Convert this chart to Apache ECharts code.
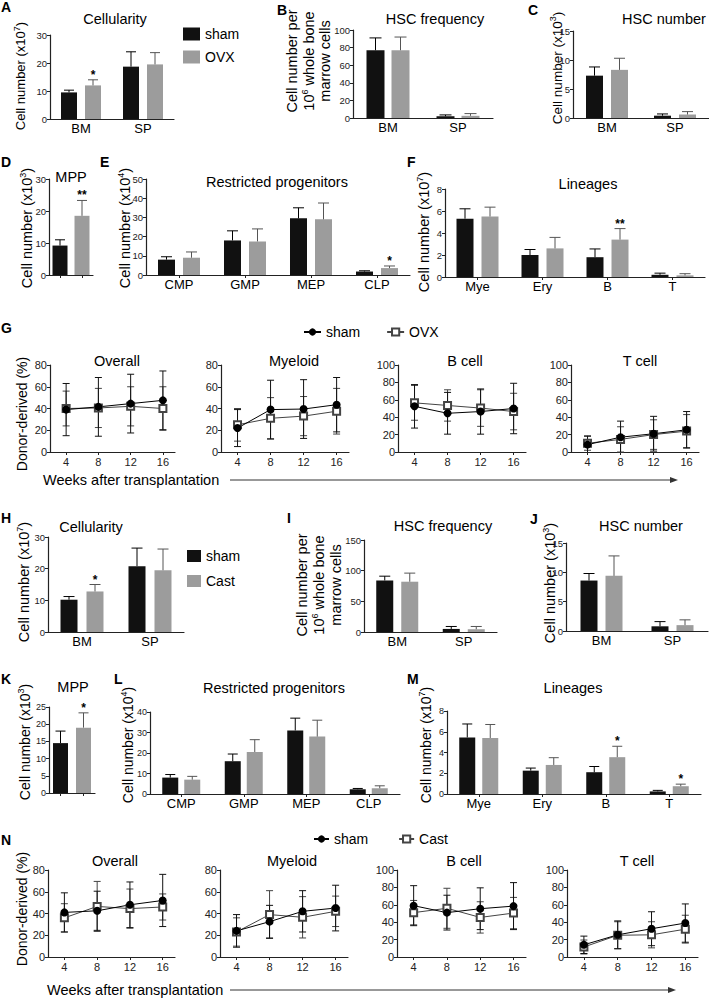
<!DOCTYPE html>
<html><head><meta charset="utf-8">
<script src="https://cdn.jsdelivr.net/npm/echarts@6/dist/echarts.min.js"></script>
<style>html,body{margin:0;padding:0;background:#fff}#c{width:709px;height:1000px}</style>
</head><body><div id="c"></div>
<script>
// ---------------- DATA ----------------
const bmsp = ['BM', 'SP'];
const progCats = ['CMP', 'GMP', 'MEP', 'CLP'];
const linCats = ['Mye', 'Ery', 'B', 'T'];
const weeks = [4, 8, 12, 16];

// A Cellularity (x10^7)
const A_sham = [9.5, 18.7], A_shamErr = [0.8, 5.3];
const A_ovx = [12.0, 19.5], A_ovxErr = [2.0, 4.2];
const A_stars = ['*', ''];
// B HSC frequency
const B_sham = [77, 2.0], B_shamErr = [14, 1.5];
const B_ovx = [77, 2.5], B_ovxErr = [15, 2.5];
// C HSC number (x10^3)
const C_sham = [7.3, 0.4], C_shamErr = [1.5, 0.3];
const C_ovx = [8.3, 0.6], C_ovxErr = [2.0, 0.5];
// D MPP (x10^3)
const D_cats = ['sham', 'OVX'];
const D_vals = [9.2, 18.5], D_errs = [1.8, 4.8], D_stars = ['', '**'];
// E Restricted progenitors (x10^4)
const E_sham = [8.0, 18.0, 29.5, 1.8], E_shamErr = [1.5, 5.0, 5.5, 0.4];
const E_ovx = [9.0, 17.5, 29.0, 3.6], E_ovxErr = [3.0, 6.5, 8.5, 1.1];
const E_stars = ['', '', '', '*'];
// F Lineages (x10^7)
const F_sham = [5.3, 2.0, 1.8, 0.2], F_shamErr = [0.9, 0.5, 0.75, 0.15];
const F_ovx = [5.5, 2.6, 3.4, 0.15], F_ovxErr = [0.85, 1.0, 1.0, 0.15];
const F_stars = ['', '', '**', ''];
// G donor-derived (%)  sham vs OVX
const G_all_sham = [39, 41.5, 44.5, 47.5], G_all_shamErr = [24, 27, 27, 27];
const G_all_ovx = [40, 40.5, 42, 40], G_all_ovxErr = [16, 18, 18, 20];
const G_mye_sham = [22, 39, 39.5, 43.5], G_mye_shamErr = [17, 27, 27, 25];
const G_mye_ovx = [25, 31, 33, 37.5], G_mye_ovxErr = [15, 19, 18, 21];
const G_b_sham = [52.5, 44.5, 46.5, 50], G_b_shamErr = [25, 24, 26, 29];
const G_b_ovx = [56.5, 53.5, 50.5, 46.5], G_b_ovxErr = [20, 18, 21, 21];
const G_t_sham = [8.5, 17, 21, 25.5], G_t_shamErr = [10, 18.5, 20, 21];
const G_t_ovx = [10, 14.5, 20, 24], G_t_ovxErr = [8, 14.5, 17, 19];
// H Cellularity (x10^7)
const H_sham = [10.2, 20.8], H_shamErr = [1.0, 5.7];
const H_cast = [12.8, 19.5], H_castErr = [2.2, 6.7];
const H_stars = ['*', ''];
// I HSC frequency
const I_sham = [84, 5.0], I_shamErr = [7, 4.0];
const I_cast = [82, 4.5], I_castErr = [14, 4.5];
// J HSC number (x10^3)
const J_sham = [8.6, 0.8], J_shamErr = [1.2, 0.8];
const J_cast = [9.4, 1.0], J_castErr = [3.4, 0.9];
// K MPP (x10^3)
const K_cats = ['sham', 'Cast'];
const K_vals = [14.5, 19.0], K_errs = [3.5, 4.3], K_stars = ['', '*'];
// L Restricted progenitors (x10^4)
const L_sham = [8.0, 16.0, 31.0, 2.3], L_shamErr = [1.5, 3.5, 6.0, 0.4];
const L_cast = [7.0, 20.5, 28.0, 2.8], L_castErr = [1.6, 6.0, 8.0, 1.2];
// M Lineages (x10^7)
const M_sham = [5.45, 2.25, 2.1, 0.25], M_shamErr = [1.3, 0.25, 0.55, 0.1];
const M_cast = [5.4, 2.8, 3.55, 0.75], M_castErr = [1.3, 0.7, 1.05, 0.2];
const M_stars = ['', '', '*', '*'];
// N donor-derived (%)  sham vs Cast
const N_all_sham = [41, 42.5, 48, 52], N_all_shamErr = [18, 18, 21, 24];
const N_all_cast = [36, 46.5, 44.5, 46], N_all_castErr = [13, 23, 18, 12];
const N_mye_sham = [24, 32.5, 42, 45], N_mye_shamErr = [15, 15, 19, 21];
const N_mye_cast = [23, 39, 36.5, 42], N_mye_castErr = [13, 22, 19, 14];
const N_b_sham = [59, 51, 55.5, 58.5], N_b_shamErr = [23, 20, 24, 27];
const N_b_cast = [51, 56, 45.5, 50.5], N_b_castErr = [14, 23, 18, 18];
const N_t_sham = [14, 25.5, 32.5, 39], N_t_shamErr = [10, 16, 19.5, 22];
const N_t_cast = [11.5, 25, 25.5, 32], N_t_castErr = [8, 15.5, 15, 16];

// ---------------- STYLE / BUILDERS ----------------
const FONT = "'Liberation Sans', Arial, sans-serif";
const BLACK = '#111', GREY = '#9c9c9c', AX = '#222';
const grid = [], xAxis = [], yAxis = [], series = [], graphic = [], legend = [];

function errSeries(gi, data, offset, cap, color, twoSided, stars) {
  return {
    type: 'custom', xAxisIndex: gi, yAxisIndex: gi, z: 3, silent: true, animation: false,
    data: data,
    renderItem: function (params, api) {
      const i = params.dataIndex;
      const x = api.value(0), m = api.value(1), e = api.value(2);
      const c = Array.isArray(color) ? color[i] : color;
      const pTop = api.coord([x, m + e]);
      const pMid = api.coord([x, m]);
      const lowClip = (m - e) < 0;
      const pLow = api.coord([x, Math.max(0, m - e)]);
      const cx = pTop[0] + (Array.isArray(offset) ? offset[i] : offset);
      const yb = twoSided ? pLow[1] : pMid[1];
      const st = { stroke: c, lineWidth: 1 };
      const ch = [
        { type: 'line', shape: { x1: cx, y1: pTop[1], x2: cx, y2: yb }, style: st },
        { type: 'line', shape: { x1: cx - cap / 2, y1: pTop[1], x2: cx + cap / 2, y2: pTop[1] }, style: st }
      ];
      if (twoSided && !lowClip) ch.push({ type: 'line', shape: { x1: cx - cap / 2, y1: pLow[1], x2: cx + cap / 2, y2: pLow[1] }, style: st });
      const s = stars && stars[i];
      if (s) ch.push({ type: 'text', x: cx, y: pTop[1] - 5, style: { text: s, fontSize: 12, fontWeight: 'bold', fontFamily: FONT, fill: '#000', align: 'center', verticalAlign: 'middle', lineHeight: 10 } });
      return { type: 'group', children: ch };
    }
  };
}

function yAx(gi, max, interval, fs) {
  return {
    gridIndex: gi, type: 'value', min: 0, max: max, interval: interval,
    axisLine: { show: true, onZero: false, lineStyle: { color: AX, width: 1.2 } },
    axisTick: { show: true, length: 3, lineStyle: { color: AX } },
    axisLabel: { fontSize: fs, color: '#222', margin: 3, fontFamily: FONT },
    splitLine: { show: false }
  };
}

function barPanel(p) {
  const gi = grid.length;
  grid.push({ left: p.left, top: p.top, width: p.width, height: p.height });
  xAxis.push({
    gridIndex: gi, type: 'category', data: p.cats,
    axisLine: { lineStyle: { color: AX, width: 1.2 } },
    axisTick: { show: !!p.ticks, alignWithLabel: true, length: 3, lineStyle: { color: AX } },
    axisLabel: { show: !p.hideLabels, fontSize: 13, color: '#000', margin: 3, fontFamily: FONT, interval: 0 }
  });
  yAxis.push(yAx(gi, p.max, p.interval, p.tickFont || 9.5));
  const cap = Math.round(p.barW * 0.65);
  if (p.single) {
    const s = p.single;
    series.push({
      type: 'bar', xAxisIndex: gi, yAxisIndex: gi, barWidth: p.barW, silent: true, z: 2,
      data: s.vals.map((v, i) => ({ value: v, itemStyle: { color: s.colors[i] } }))
    });
    series.push(errSeries(gi, s.vals.map((v, i) => [i, v, s.errs[i]]), 0, cap, s.errColors, false, s.stars));
    return;
  }
  p.groups.forEach((g, k) => {
    const off = (k === 0 ? -1 : 1) * (p.barW + p.gap) / 2;
    series.push({
      type: 'bar', name: g.name, xAxisIndex: gi, yAxisIndex: gi, data: g.vals, barWidth: p.barW,
      barGap: (p.gap / p.barW * 100).toFixed(1) + '%', itemStyle: { color: g.color }, silent: true, z: 2
    });
    series.push(errSeries(gi, g.vals.map((v, i) => [i, v, g.errs[i]]), off, cap, g.errColor, false, g.stars));
  });
}

function linePanel(p) {
  const gi = grid.length;
  grid.push({ left: p.left, top: p.top, width: p.width, height: p.height });
  xAxis.push({
    gridIndex: gi, type: 'value', min: 2, max: 17.5,
    axisLine: { show: true, onZero: false, lineStyle: { color: AX, width: 1.2 } },
    axisTick: { show: true, length: 3, customValues: weeks, lineStyle: { color: AX } },
    axisLabel: { customValues: weeks, fontSize: 11, color: '#222', margin: 4, fontFamily: FONT },
    splitLine: { show: false }
  });
  yAxis.push(yAx(gi, p.max, 20, 11));
  p.groups.forEach(g => {
    series.push(errSeries(gi, weeks.map((w, i) => [w, g.vals[i], g.errs[i]]), 0, 7, g.errColor, true));
    series.push({
      type: 'line', name: g.name, xAxisIndex: gi, yAxisIndex: gi, silent: true, z: 4,
      data: weeks.map((w, i) => [w, g.vals[i]]),
      symbol: g.symbol, symbolSize: g.size,
      itemStyle: { color: g.color, borderWidth: 1 }, lineStyle: { color: g.color, width: 1 }
    });
  });
}

function T(x, y, text, o) {
  o = o || {};
  const st = {
    text: text, fontSize: o.fs || 14, fontWeight: o.fw || 'normal', fontFamily: FONT, fill: '#000',
    align: o.align || 'center', verticalAlign: 'middle'
  };
  if (o.rich) { st.rich = o.rich; st.lineHeight = o.lh || 16; }
  graphic.push({ type: 'text', x: x, y: y, rotation: o.rot || 0, silent: true, style: st });
}
const SUP = { s: { fontSize: 9, lineHeight: 6, verticalAlign: 'top', fontFamily: FONT } };
function YL(x, y, text, fs) { T(x, y, text, { rot: Math.PI / 2, fs: fs, rich: SUP, lh: fs + 3 }); }
function L(x, y, t) { T(x, y, t, { fs: 14, fw: 'bold', align: 'left' }); }
function arrow(x1, x2, y) {
  graphic.push({ type: 'line', silent: true, shape: { x1: x1, y1: y, x2: x2 - 4, y2: y }, style: { stroke: '#333', lineWidth: 1 } });
  graphic.push({ type: 'polygon', silent: true, shape: { points: [[x2, y], [x2 - 8, y - 3], [x2 - 8, y + 3]] }, style: { fill: '#333' } });
}

const sham = (v, e, st) => ({ name: 'sham', vals: v, errs: e, color: BLACK, errColor: '#000', stars: st });
const trt = (n, v, e, st) => ({ name: n, vals: v, errs: e, color: GREY, errColor: '#555', stars: st });
const lsham = (v, e) => ({ name: 'sham ', vals: v, errs: e, color: '#000', errColor: '#111', symbol: 'circle', size: 8 });
const ltrt = (n, v, e) => ({ name: n, vals: v, errs: e, color: '#444', errColor: '#444', symbol: 'emptyRect', size: 7 });

// ---------------- PANELS ----------------
barPanel({ left: 50, top: 35, width: 124, height: 84, cats: bmsp, max: 30, interval: 10, barW: 16, gap: 8,
  groups: [sham(A_sham, A_shamErr), trt('OVX', A_ovx, A_ovxErr, A_stars)] });
barPanel({ left: 353, top: 30, width: 140, height: 88, cats: bmsp, max: 100, interval: 20, barW: 18, gap: 7,
  groups: [sham(B_sham, B_shamErr), trt('OVX', B_ovx, B_ovxErr)] });
barPanel({ left: 573, top: 31, width: 136, height: 87, cats: bmsp, max: 15, interval: 5, barW: 17, gap: 8,
  groups: [sham(C_sham, C_shamErr), trt('OVX', C_ovx, C_ovxErr)] });
barPanel({ left: 49, top: 179, width: 44, height: 96, cats: D_cats, max: 30, interval: 10, barW: 15, ticks: true, hideLabels: true,
  single: { vals: D_vals, errs: D_errs, colors: [BLACK, GREY], errColors: ['#000', '#555'], stars: D_stars } });
barPanel({ left: 146, top: 179, width: 264, height: 96, cats: progCats, max: 50, interval: 10, barW: 17, gap: 8, ticks: true,
  groups: [sham(E_sham, E_shamErr), trt('OVX', E_ovx, E_ovxErr, E_stars)] });
barPanel({ left: 445, top: 189, width: 260, height: 88, cats: linCats, max: 8, interval: 2, barW: 17, gap: 8, ticks: true,
  groups: [sham(F_sham, F_shamErr), trt('OVX', F_ovx, F_ovxErr, F_stars)] });

linePanel({ left: 50, top: 365, width: 125, height: 87, max: 80, groups: [ltrt('OVX ', G_all_ovx, G_all_ovxErr), lsham(G_all_sham, G_all_shamErr)] });
linePanel({ left: 221, top: 365, width: 128, height: 87, max: 80, groups: [ltrt('OVX ', G_mye_ovx, G_mye_ovxErr), lsham(G_mye_sham, G_mye_shamErr)] });
linePanel({ left: 398, top: 365, width: 128, height: 87, max: 100, groups: [ltrt('OVX ', G_b_ovx, G_b_ovxErr), lsham(G_b_sham, G_b_shamErr)] });
linePanel({ left: 571, top: 365, width: 128, height: 87, max: 100, groups: [ltrt('OVX ', G_t_ovx, G_t_ovxErr), lsham(G_t_sham, G_t_shamErr)] });

barPanel({ left: 48, top: 537, width: 136, height: 95, cats: bmsp, max: 30, interval: 10, barW: 17, gap: 9,
  groups: [sham(H_sham, H_shamErr), trt('Cast', H_cast, H_castErr, H_stars)] });
barPanel({ left: 364, top: 540, width: 133, height: 92, cats: bmsp, max: 150, interval: 50, barW: 17, gap: 8,
  groups: [sham(I_sham, I_shamErr), trt('Cast', I_cast, I_castErr)] });
barPanel({ left: 566, top: 543, width: 142, height: 88, cats: bmsp, max: 15, interval: 5, barW: 17, gap: 8,
  groups: [sham(J_sham, J_shamErr), trt('Cast', J_cast, J_castErr)] });
barPanel({ left: 49, top: 707, width: 46, height: 86, cats: K_cats, max: 25, interval: 5, barW: 15, ticks: true, hideLabels: true, tickFont: 9,
  single: { vals: K_vals, errs: K_errs, colors: [BLACK, GREY], errColors: ['#000', '#555'], stars: K_stars } });
barPanel({ left: 150, top: 712, width: 250, height: 82, cats: progCats, max: 40, interval: 10, barW: 16, gap: 6, ticks: true, tickFont: 9,
  groups: [sham(L_sham, L_shamErr), trt('Cast', L_cast, L_castErr)] });
barPanel({ left: 447, top: 711, width: 254, height: 83, cats: linCats, max: 8, interval: 2, barW: 16, gap: 7, ticks: true, tickFont: 9,
  groups: [sham(M_sham, M_shamErr), trt('Cast', M_cast, M_castErr, M_stars)] });

linePanel({ left: 48, top: 870, width: 127, height: 87, max: 80, groups: [ltrt('Cast ', N_all_cast, N_all_castErr), lsham(N_all_sham, N_all_shamErr)] });
linePanel({ left: 220, top: 870, width: 128, height: 87, max: 80, groups: [ltrt('Cast ', N_mye_cast, N_mye_castErr), lsham(N_mye_sham, N_mye_shamErr)] });
linePanel({ left: 397, top: 870, width: 129, height: 87, max: 100, groups: [ltrt('Cast ', N_b_cast, N_b_castErr), lsham(N_b_sham, N_b_shamErr)] });
linePanel({ left: 567, top: 870, width: 131, height: 87, max: 100, groups: [ltrt('Cast ', N_t_cast, N_t_castErr), lsham(N_t_sham, N_t_shamErr)] });

// ---------------- TEXT ----------------
const TF = 14.5;
T(115, 19, 'Cellularity', { fs: TF }); T(435, 19, 'HSC frequency', { fs: TF }); T(664, 19, 'HSC number', { fs: TF });
T(71, 177, 'MPP', { fs: TF }); T(277, 182, 'Restricted progenitors', { fs: TF }); T(588, 184, 'Lineages', { fs: TF });
T(117, 361, 'Overall', { fs: TF }); T(294, 361, 'Myeloid', { fs: TF }); T(465, 361, 'B cell', { fs: TF }); T(640, 361, 'T cell', { fs: TF });
T(91, 527, 'Cellularity', { fs: TF }); T(443, 526, 'HSC frequency', { fs: TF }); T(641, 526, 'HSC number', { fs: TF });
T(73, 687, 'MPP', { fs: TF }); T(274, 688, 'Restricted progenitors', { fs: TF }); T(573, 688, 'Lineages', { fs: TF });
T(115, 861, 'Overall', { fs: TF }); T(292, 861, 'Myeloid', { fs: TF }); T(464, 861, 'B cell', { fs: TF }); T(637, 861, 'T cell', { fs: TF });

L(1, 7, 'A'); L(277, 10, 'B'); L(528, 10, 'C'); L(1, 162, 'D'); L(100, 162, 'E'); L(407, 162, 'F');
L(1, 328, 'G'); L(1, 518, 'H'); L(287, 518, 'I'); L(530, 519, 'J'); L(1, 679, 'K'); L(114, 679, 'L'); L(407, 679, 'M'); L(1, 840, 'N');

YL(20, 76, 'Cell number (x10{s|7})', 13);
YL(292, 61, 'Cell number per', 14.5); YL(309, 61, '10{s|6} whole bone', 14.5); YL(325, 61, 'marrow cells', 14.5);
YL(557, 68, 'Cell number (x10{s|3})', 13.5);
YL(27, 228, 'Cell number (x10{s|3})', 14.5);
YL(125, 228, 'Cell number (x10{s|4})', 14.5);
YL(424, 232, 'Cell number (x10{s|7})', 14.5);
YL(22, 414, 'Donor-derived (%)', 14);
YL(24, 582, 'Cell number (x10{s|7})', 14.5);
YL(302, 585, 'Cell number per', 14.5); YL(319, 585, '10{s|6} whole bone', 14.5); YL(336, 585, 'marrow cells', 14.5);
YL(550, 583, 'Cell number (x10{s|3})', 14.5);
YL(25, 742, 'Cell number (x10{s|3})', 14);
YL(128, 745, 'Cell number (x10{s|4})', 14);
YL(426, 745, 'Cell number (x10{s|7})', 14);
YL(22, 909, 'Donor-derived (%)', 14);

T(43, 480, 'Weeks after transplantation', { fs: 14.5, align: 'left' }); arrow(230, 678, 480);
T(47, 990, 'Weeks after transplantation', { fs: 14.5, align: 'left' }); arrow(230, 676, 990);

// ---------------- LEGENDS ----------------
const legText = { fontSize: 14, fontFamily: FONT, color: '#000', lineHeight: 13 };
legend.push({ selectedMode: false, left: 183, top: 27, padding: 0, orient: 'vertical', icon: 'rect', itemWidth: 17, itemHeight: 13, itemGap: 9, data: ['sham', 'OVX'], textStyle: legText });
legend.push({ selectedMode: false, left: 187, top: 549, padding: 0, orient: 'vertical', icon: 'rect', itemWidth: 14, itemHeight: 12, itemGap: 11, data: ['sham', 'Cast'], textStyle: legText });
const legLine = { fontSize: 14, fontFamily: FONT, color: '#000', lineHeight: 14 };
legend.push({ selectedMode: false, left: 303, top: 325, padding: 0, orient: 'horizontal', itemWidth: 17, itemHeight: 9, itemGap: 22, data: ['sham ', 'OVX '], textStyle: legLine });
legend.push({ selectedMode: false, left: 313, top: 832, padding: 0, orient: 'horizontal', itemWidth: 15, itemHeight: 9, itemGap: 26, data: ['sham ', 'Cast '], textStyle: legLine });

const chart = echarts.init(document.getElementById('c'), null, { renderer: 'svg', width: 709, height: 1000 });
chart.setOption({
  animation: false, backgroundColor: '#fff',
  textStyle: { fontFamily: FONT },
  grid: grid, xAxis: xAxis, yAxis: yAxis, series: series, legend: legend, graphic: graphic
});
</script></body></html>
